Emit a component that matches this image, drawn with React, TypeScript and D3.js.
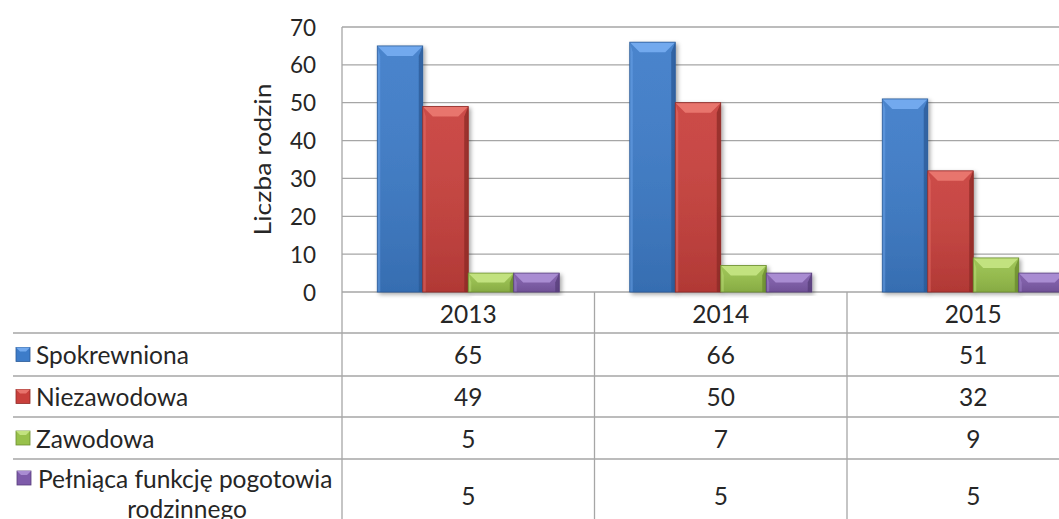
import React from 'react';
import * as d3 from 'd3';

const years = ['2013', '2014', '2015'];
const seriesNames = ['Spokrewniona', 'Niezawodowa', 'Zawodowa', 'Pełniąca funkcję pogotowia rodzinnego'];
const spokrewniona = [65, 66, 51];
const niezawodowa = [49, 50, 32];
const zawodowa = [5, 7, 9];
const pogotowie = [5, 5, 5];
const yTicks = [0, 10, 20, 30, 40, 50, 60, 70];

const seriesValues = [spokrewniona, niezawodowa, zawodowa, pogotowie];

// main / light bevel / dark edge
const palette = [
  { main: '#3d7cc9', light: '#72a9ee', dark: '#2b5b98' },
  { main: '#c9403c', light: '#e8746d', dark: '#8f2b27' },
  { main: '#98c14b', light: '#c2e27f', dark: '#6b8d30' },
  { main: '#7e5baa', light: '#a98cd2', dark: '#573e7b' },
];

const W = 1059;
const H = 519;
const plotLeft = 342;
const catWidth = 252.5;
const plotTop = 27;
const plotBottom = 292;
const gridColor = '#a6a6a6';
const textColor = '#262626';
const font = 'Lato, "Open Sans", sans-serif';
const tableFont = 24.5;

function BevelBar({ x, y, w, h, c }: { x: number; y: number; w: number; h: number; c: typeof palette[0] }) {
  const b = Math.min(10, h / 2, w / 4);
  return (
    <g filter="url(#shadow)">
      <rect x={x} y={y} width={w} height={h} fill={c.main} />
      <rect x={x} y={y} width={w} height={h} fill="url(#shade)" />
      {/* left edge */}
      <polygon points={`${x},${y} ${x + 3},${y + b} ${x + 3},${y + h} ${x},${y + h}`} fill={c.light} opacity={0.45} />
      {/* right edge */}
      <polygon points={`${x + w},${y} ${x + w - 4},${y + b} ${x + w - 4},${y + h} ${x + w},${y + h}`} fill={c.dark} opacity={0.8} />
      {/* top bevel */}
      <polygon points={`${x},${y} ${x + w},${y} ${x + w - b},${y + b} ${x + b},${y + b}`} fill={c.light} />
      <rect x={x} y={y} width={w} height={h} fill="none" stroke={c.dark} strokeWidth={0.8} />
    </g>
  );
}

function BevelKey({ x, y, c }: { x: number; y: number; c: typeof palette[0] }) {
  const s = 14;
  const b = 4;
  return (
    <g>
      <rect x={x} y={y} width={s} height={s} fill={c.main} stroke={c.dark} strokeWidth={0.8} />
      <polygon points={`${x},${y} ${x + s},${y} ${x + s - b},${y + b} ${x + b},${y + b}`} fill={c.light} />
    </g>
  );
}

export default function App() {
  const y = d3.scaleLinear().domain([0, 70]).range([plotBottom, plotTop]);
  const x = d3.scaleBand<string>().domain(years).range([plotLeft, plotLeft + catWidth * years.length]).padding(0);
  const inner = d3.scaleBand<string>().domain(seriesNames).range([0, x.bandwidth()]).paddingInner(0).paddingOuter(0.775);

  const rowLines = [333, 376, 417, 459];
  const rowCenters = [354.5, 396.5, 438, 495];

  return (
    <svg width={W} height={H} style={{ position: 'absolute', left: 0, top: 0, background: '#fff' }} fontFamily={font}>
      <defs>
        <linearGradient id="shade" x1="0" y1="0" x2="0" y2="1">
          <stop offset="0" stopColor="#fff" stopOpacity={0.06} />
          <stop offset="1" stopColor="#000" stopOpacity={0.12} />
        </linearGradient>
        <filter id="shadow" x="-20%" y="-20%" width="140%" height="140%">
          <feDropShadow dx="2" dy="2" stdDeviation="2" floodColor="#000" floodOpacity="0.35" />
        </filter>
      </defs>

      {/* gridlines */}
      {yTicks.map((t) => (
        <line key={t} x1={plotLeft} x2={W} y1={y(t)} y2={y(t)} stroke={gridColor} strokeWidth={1.3} />
      ))}

      {/* tick labels */}
      {yTicks.map((t) => (
        <text key={t} x={316} y={y(t)} textAnchor="end" dominantBaseline="central" fontSize={22.5} fill={textColor}>
          {t}
        </text>
      ))}

      <text
        transform={`translate(262,${(plotTop + plotBottom) / 2}) rotate(-90)`}
        textAnchor="middle"
        dominantBaseline="central"
        fontSize={23}
        textLength={152}
        lengthAdjust="spacingAndGlyphs"
        fill={textColor}
      >
        Liczba rodzin
      </text>

      {/* bars */}
      {years.map((yr, i) =>
        seriesNames.map((s, j) => {
          const v = seriesValues[j][i];
          const bx = (x(yr) as number) + (inner(s) as number);
          return (
            <BevelBar key={yr + s} x={bx} y={y(v)} w={inner.bandwidth()} h={y(0) - y(v)} c={palette[j]} />
          );
        })
      )}

      {/* table */}
      <line x1={plotLeft} x2={plotLeft} y1={plotTop} y2={H} stroke={gridColor} strokeWidth={1.3} />
      {years.map((yr) => (
        <line key={yr} x1={(x(yr) as number) + catWidth} x2={(x(yr) as number) + catWidth} y1={plotBottom} y2={H} stroke={gridColor} strokeWidth={1.3} />
      ))}
      {rowLines.map((ly) => (
        <line key={ly} x1={13} x2={W} y1={ly} y2={ly} stroke={gridColor} strokeWidth={1.3} />
      ))}

      {years.map((yr) => (
        <text key={yr} x={(x(yr) as number) + catWidth / 2} y={313} textAnchor="middle" dominantBaseline="central" fontSize={tableFont} fill={textColor}>
          {yr}
        </text>
      ))}

      {seriesNames.map((s, j) => (
        <g key={s}>
          {years.map((yr, i) => (
            <text key={yr} x={(x(yr) as number) + catWidth / 2} y={rowCenters[j]} textAnchor="middle" dominantBaseline="central" fontSize={tableFont} fill={textColor}>
              {seriesValues[j][i]}
            </text>
          ))}
        </g>
      ))}

      {/* row labels with keys */}
      {seriesNames.slice(0, 3).map((s, j) => (
        <g key={s}>
          <BevelKey x={16} y={rowCenters[j] - 7} c={palette[j]} />
          <text x={36} y={rowCenters[j]} dominantBaseline="central" fontSize={tableFont} fill={textColor}>
            {s}
          </text>
        </g>
      ))}
      <BevelKey x={17} y={471} c={palette[3]} />
      <text x={38} y={478} dominantBaseline="central" fontSize={tableFont} fill={textColor}>
        Pełniąca funkcję pogotowia
      </text>
      <text x={187} y={508} textAnchor="middle" dominantBaseline="central" fontSize={tableFont} fill={textColor}>
        rodzinnego
      </text>
    </svg>
  );
}
